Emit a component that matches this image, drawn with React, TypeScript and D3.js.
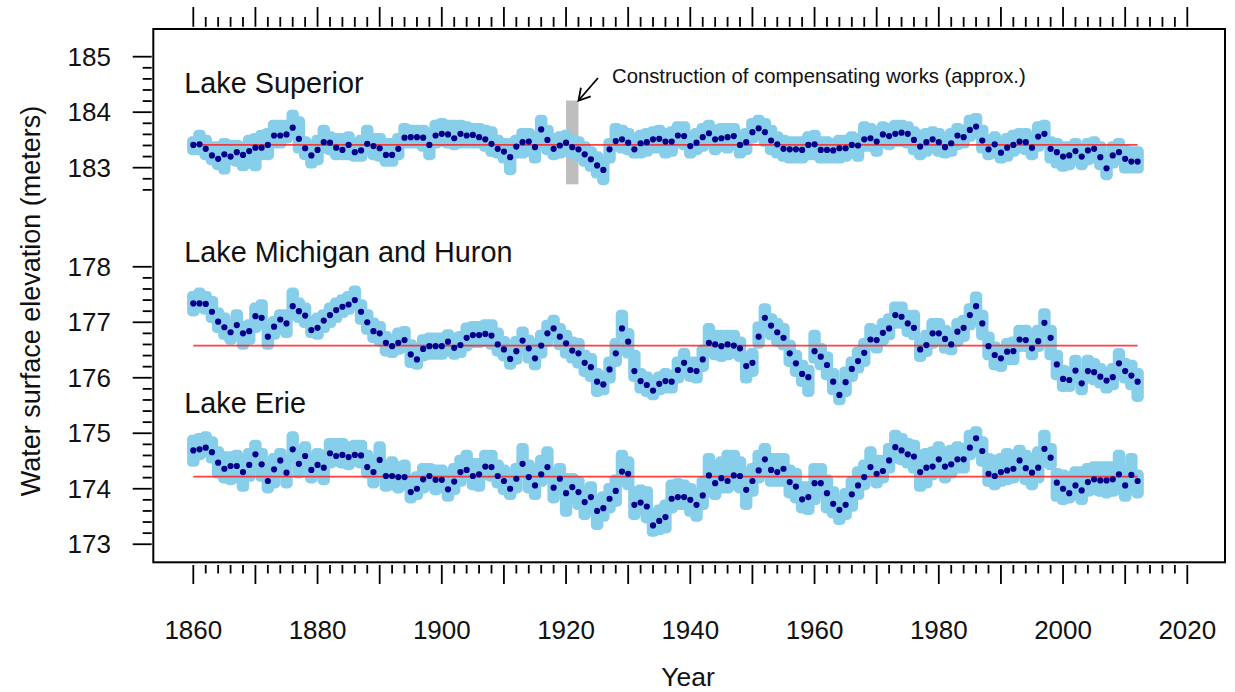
import React from 'react';
import * as d3 from 'd3';

// annual series, 1860..2012
const years = d3.range(1860, 2013);

const superiorMean = [
  183.41, 183.42, 183.34, 183.22, 183.16, 183.24, 183.20, 183.28, 183.23, 183.30,
  183.36, 183.36, 183.41, 183.58, 183.58, 183.60, 183.72, 183.52, 183.35, 183.22,
  183.32, 183.46, 183.45, 183.36, 183.32, 183.41, 183.28, 183.31, 183.43, 183.39,
  183.35, 183.23, 183.23, 183.34, 183.54, 183.55, 183.55, 183.54, 183.41, 183.58,
  183.61, 183.60, 183.53, 183.61, 183.58, 183.59, 183.55, 183.51, 183.43, 183.34,
  183.29, 183.19, 183.38, 183.46, 183.47, 183.37, 183.69, 183.50, 183.34, 183.40,
  183.45, 183.37, 183.33, 183.24, 183.15, 183.04, 182.96, 183.33, 183.48, 183.51,
  183.45, 183.33, 183.44, 183.46, 183.51, 183.52, 183.47, 183.47, 183.58, 183.57,
  183.39, 183.45, 183.55, 183.62, 183.51, 183.53, 183.55, 183.57, 183.41, 183.46,
  183.64, 183.71, 183.64, 183.49, 183.42, 183.34, 183.33, 183.33, 183.32, 183.41,
  183.42, 183.32, 183.32, 183.31, 183.35, 183.35, 183.41, 183.40, 183.51, 183.53,
  183.47, 183.60, 183.57, 183.61, 183.63, 183.61, 183.50, 183.38, 183.46, 183.51,
  183.46, 183.37, 183.44, 183.58, 183.55, 183.68, 183.74, 183.49, 183.33, 183.42,
  183.27, 183.36, 183.41, 183.47, 183.46, 183.36, 183.56, 183.61, 183.34, 183.28,
  183.20, 183.22, 183.30, 183.20, 183.31, 183.34, 183.19, 182.99, 183.22, 183.28,
  183.16, 183.11, 183.11,
];
const superiorHigh = [
  183.50, 183.62, 183.53, 183.41, 183.41, 183.47, 183.44, 183.44, 183.41, 183.53,
  183.56, 183.62, 183.65, 183.80, 183.80, 183.80, 183.98, 183.86, 183.50, 183.41,
  183.53, 183.71, 183.59, 183.56, 183.56, 183.59, 183.47, 183.53, 183.71, 183.56,
  183.56, 183.47, 183.47, 183.56, 183.74, 183.71, 183.71, 183.71, 183.65, 183.80,
  183.83, 183.80, 183.80, 183.80, 183.77, 183.74, 183.74, 183.71, 183.68, 183.53,
  183.47, 183.47, 183.53, 183.65, 183.65, 183.59, 183.89, 183.71, 183.56, 183.59,
  183.62, 183.53, 183.50, 183.41, 183.32, 183.23, 183.14, 183.47, 183.74, 183.71,
  183.65, 183.56, 183.62, 183.65, 183.68, 183.71, 183.65, 183.68, 183.77, 183.77,
  183.59, 183.65, 183.74, 183.80, 183.71, 183.74, 183.74, 183.74, 183.62, 183.65,
  183.83, 183.89, 183.83, 183.71, 183.59, 183.53, 183.50, 183.50, 183.50, 183.59,
  183.62, 183.50, 183.50, 183.47, 183.53, 183.53, 183.59, 183.56, 183.77, 183.74,
  183.68, 183.77, 183.74, 183.80, 183.80, 183.77, 183.68, 183.62, 183.65, 183.68,
  183.65, 183.56, 183.65, 183.74, 183.71, 183.89, 183.92, 183.71, 183.53, 183.59,
  183.47, 183.56, 183.62, 183.65, 183.65, 183.56, 183.77, 183.80, 183.50, 183.47,
  183.41, 183.41, 183.47, 183.38, 183.47, 183.50, 183.41, 183.23, 183.41, 183.47,
  183.35, 183.32, 183.32,
];
const superiorLow = [
  183.29, 183.29, 183.20, 183.11, 183.02, 182.94, 183.11, 183.08, 183.00, 183.05,
  183.00, 183.20, 183.20, 183.41, 183.41, 183.50, 183.59, 183.32, 183.20, 183.05,
  183.11, 183.32, 183.29, 183.20, 183.20, 183.20, 183.17, 183.17, 183.29, 183.20,
  183.17, 183.08, 183.08, 183.20, 183.41, 183.41, 183.41, 183.35, 183.20, 183.41,
  183.44, 183.41, 183.38, 183.41, 183.41, 183.41, 183.41, 183.35, 183.26, 183.23,
  183.14, 182.93, 183.23, 183.23, 183.26, 183.14, 183.41, 183.29, 183.20, 183.23,
  183.26, 183.23, 183.17, 183.08, 182.99, 182.87, 182.75, 183.14, 183.35, 183.32,
  183.29, 183.23, 183.23, 183.26, 183.32, 183.32, 183.23, 183.26, 183.41, 183.38,
  183.23, 183.29, 183.35, 183.44, 183.29, 183.35, 183.32, 183.38, 183.23, 183.29,
  183.50, 183.56, 183.44, 183.29, 183.23, 183.17, 183.14, 183.14, 183.14, 183.20,
  183.20, 183.14, 183.14, 183.14, 183.14, 183.17, 183.23, 183.17, 183.35, 183.35,
  183.26, 183.41, 183.38, 183.44, 183.44, 183.41, 183.29, 183.20, 183.26, 183.32,
  183.26, 183.23, 183.26, 183.38, 183.41, 183.53, 183.59, 183.32, 183.20, 183.23,
  183.14, 183.17, 183.26, 183.32, 183.29, 183.20, 183.35, 183.44, 183.14, 183.05,
  182.99, 183.02, 183.11, 183.02, 183.11, 183.14, 183.02, 182.84, 183.05, 183.11,
  182.96, 182.96, 182.96,
];

const michiganMean = [
  177.34, 177.34, 177.33, 177.19, 177.01, 176.91, 176.82, 176.95, 176.80, 176.84,
  177.11, 177.08, 176.74, 176.92, 177.05, 176.98, 177.29, 177.20, 177.12, 176.86,
  176.90, 177.03, 177.13, 177.22, 177.28, 177.32, 177.40, 177.19, 177.00, 176.84,
  176.80, 176.63, 176.57, 176.63, 176.68, 176.42, 176.33, 176.52, 176.57, 176.57,
  176.57, 176.65, 176.54, 176.59, 176.72, 176.77, 176.77, 176.79, 176.76, 176.60,
  176.51, 176.34, 176.48, 176.67, 176.53, 176.35, 176.58, 176.80, 176.89, 176.74,
  176.62, 176.49, 176.44, 176.27, 176.19, 175.93, 175.88, 176.15, 176.44, 176.89,
  176.65, 176.12, 175.94, 175.87, 175.77, 175.89, 175.94, 175.93, 176.14, 176.27,
  176.14, 176.12, 176.33, 176.63, 176.60, 176.57, 176.60, 176.58, 176.53, 176.21,
  176.27, 176.74, 177.08, 176.94, 176.82, 176.72, 176.44, 176.26, 176.07, 176.01,
  176.48, 176.38, 176.23, 175.93, 175.69, 175.92, 176.16, 176.30, 176.45, 176.69,
  176.68, 176.81, 176.89, 177.13, 177.10, 176.98, 176.90, 176.51, 176.59, 176.80,
  176.80, 176.70, 176.60, 176.83, 176.90, 177.13, 177.29, 176.98, 176.57, 176.41,
  176.35, 176.47, 176.48, 176.69, 176.68, 176.53, 176.66, 176.99, 176.72, 176.24,
  175.98, 175.96, 176.13, 175.90, 176.12, 176.10, 176.02, 175.95, 176.01, 176.26,
  176.12, 176.04, 175.93,
];
const michiganHigh = [
  177.50, 177.56, 177.50, 177.41, 177.20, 177.11, 176.99, 177.17, 176.96, 176.99,
  177.29, 177.35, 176.90, 177.05, 177.17, 177.17, 177.56, 177.38, 177.29, 177.05,
  177.11, 177.17, 177.29, 177.38, 177.44, 177.50, 177.60, 177.35, 177.17, 177.02,
  176.96, 176.78, 176.72, 176.84, 176.87, 176.63, 176.57, 176.72, 176.75, 176.75,
  176.75, 176.81, 176.75, 176.78, 176.93, 176.96, 176.96, 176.99, 176.99, 176.84,
  176.69, 176.51, 176.69, 176.86, 176.71, 176.53, 176.80, 176.98, 177.07, 176.92,
  176.80, 176.68, 176.65, 176.44, 176.38, 176.11, 176.05, 176.32, 176.65, 177.16,
  176.83, 176.44, 176.11, 176.05, 175.96, 176.05, 176.11, 176.08, 176.32, 176.47,
  176.32, 176.32, 176.53, 176.92, 176.80, 176.80, 176.80, 176.80, 176.68, 176.41,
  176.47, 176.95, 177.28, 177.10, 177.01, 176.92, 176.62, 176.44, 176.26, 176.17,
  176.80, 176.56, 176.41, 176.11, 175.84, 176.14, 176.32, 176.50, 176.65, 176.92,
  176.89, 177.01, 177.10, 177.31, 177.31, 177.16, 177.16, 176.65, 176.80, 177.01,
  177.01, 176.89, 176.80, 177.01, 177.07, 177.28, 177.49, 177.16, 176.77, 176.59,
  176.53, 176.65, 176.68, 176.89, 176.89, 176.74, 176.89, 177.19, 176.89, 176.44,
  176.17, 176.14, 176.35, 176.08, 176.35, 176.29, 176.20, 176.14, 176.20, 176.47,
  176.29, 176.26, 176.11,
];
const michiganLow = [
  177.17, 177.23, 177.20, 177.05, 176.87, 176.75, 176.66, 176.75, 176.57, 176.66,
  176.87, 176.93, 176.57, 176.75, 176.84, 176.78, 177.11, 177.05, 176.96, 176.78,
  176.75, 176.87, 176.96, 177.05, 177.14, 177.20, 177.29, 177.02, 176.84, 176.69,
  176.63, 176.45, 176.42, 176.48, 176.51, 176.24, 176.21, 176.36, 176.39, 176.39,
  176.39, 176.45, 176.39, 176.42, 176.54, 176.60, 176.60, 176.63, 176.57, 176.45,
  176.36, 176.21, 176.30, 176.50, 176.32, 176.20, 176.41, 176.62, 176.74, 176.56,
  176.41, 176.32, 176.23, 176.08, 175.99, 175.72, 175.75, 175.96, 176.26, 176.74,
  176.41, 175.99, 175.78, 175.72, 175.66, 175.75, 175.78, 175.78, 175.96, 176.08,
  175.99, 175.96, 176.17, 176.44, 176.38, 176.35, 176.38, 176.41, 176.35, 175.96,
  176.08, 176.59, 176.92, 176.74, 176.62, 176.56, 176.26, 176.08, 175.90, 175.72,
  176.32, 176.20, 176.02, 175.75, 175.57, 175.72, 175.99, 176.14, 176.26, 176.56,
  176.50, 176.65, 176.74, 176.95, 176.95, 176.80, 176.74, 176.35, 176.44, 176.59,
  176.65, 176.50, 176.47, 176.62, 176.71, 176.92, 177.16, 176.74, 176.38, 176.20,
  176.17, 176.29, 176.29, 176.53, 176.53, 176.38, 176.53, 176.80, 176.38, 176.02,
  175.81, 175.81, 175.96, 175.75, 175.96, 175.93, 175.87, 175.78, 175.84, 176.11,
  175.96, 175.84, 175.63,
];

const erieMean = [
  174.69, 174.71, 174.74, 174.66, 174.47, 174.36, 174.41, 174.41, 174.30, 174.43,
  174.62, 174.44, 174.14, 174.35, 174.51, 174.29, 174.71, 174.45, 174.59, 174.34,
  174.43, 174.38, 174.64, 174.59, 174.61, 174.57, 174.61, 174.60, 174.39, 174.30,
  174.52, 174.23, 174.23, 174.21, 174.21, 173.94, 174.00, 174.17, 174.23, 174.16,
  174.16, 173.99, 174.13, 174.30, 174.34, 174.23, 174.26, 174.40, 174.39, 174.23,
  174.14, 174.00, 174.18, 174.45, 174.21, 174.06, 174.26, 174.39, 174.02, 174.18,
  173.92, 174.03, 173.94, 173.76, 173.85, 173.60, 173.65, 173.82, 173.96, 174.31,
  174.27, 173.71, 173.75, 173.68, 173.34, 173.42, 173.49, 173.82, 173.85, 173.85,
  173.80, 173.71, 173.88, 174.24, 174.10, 174.19, 174.14, 174.24, 174.23, 173.98,
  174.14, 174.33, 174.53, 174.34, 174.30, 174.36, 174.12, 174.04, 173.81, 173.85,
  174.10, 174.10, 173.92, 173.73, 173.62, 173.71, 173.90, 174.06, 174.21, 174.39,
  174.27, 174.32, 174.51, 174.75, 174.69, 174.62, 174.58, 174.30, 174.38, 174.40,
  174.53, 174.40, 174.44, 174.53, 174.53, 174.74, 174.91, 174.68, 174.27, 174.23,
  174.30, 174.33, 174.36, 174.51, 174.37, 174.29, 174.38, 174.72, 174.56, 174.11,
  174.00, 173.92, 174.06, 173.97, 174.12, 174.17, 174.15, 174.15, 174.17, 174.26,
  174.06, 174.25, 174.14,
];
const erieHigh = [
  174.91, 174.94, 174.97, 174.88, 174.70, 174.61, 174.61, 174.64, 174.55, 174.67,
  174.82, 174.67, 174.40, 174.58, 174.67, 174.55, 174.97, 174.67, 174.79, 174.58,
  174.67, 174.64, 174.85, 174.85, 174.85, 174.79, 174.82, 174.82, 174.64, 174.55,
  174.79, 174.46, 174.52, 174.43, 174.46, 174.19, 174.25, 174.40, 174.40, 174.37,
  174.37, 174.22, 174.40, 174.55, 174.64, 174.49, 174.49, 174.64, 174.64, 174.46,
  174.37, 174.22, 174.40, 174.76, 174.46, 174.34, 174.55, 174.70, 174.31, 174.40,
  174.22, 174.22, 174.16, 173.98, 174.07, 173.83, 173.89, 174.04, 174.19, 174.64,
  174.52, 173.98, 174.01, 173.98, 173.53, 173.65, 173.74, 174.10, 174.13, 174.10,
  174.04, 173.95, 174.16, 174.58, 174.46, 174.52, 174.64, 174.64, 174.52, 174.28,
  174.40, 174.64, 174.76, 174.58, 174.58, 174.58, 174.37, 174.31, 174.07, 174.07,
  174.40, 174.40, 174.19, 173.98, 173.83, 173.95, 174.16, 174.34, 174.46, 174.70,
  174.55, 174.55, 174.76, 175.00, 174.94, 174.85, 174.82, 174.64, 174.67, 174.70,
  174.79, 174.70, 174.73, 174.79, 174.76, 175.00, 175.06, 174.88, 174.58, 174.55,
  174.58, 174.67, 174.64, 174.73, 174.64, 174.58, 174.70, 175.00, 174.76, 174.31,
  174.28, 174.25, 174.34, 174.34, 174.40, 174.43, 174.43, 174.43, 174.43, 174.64,
  174.37, 174.58, 174.28,
];
const erieLow = [
  174.46, 174.58, 174.64, 174.52, 174.25, 174.16, 174.13, 174.16, 174.01, 174.19,
  174.34, 174.19, 173.98, 174.07, 174.31, 174.07, 174.52, 174.25, 174.40, 174.16,
  174.25, 174.13, 174.43, 174.46, 174.43, 174.40, 174.46, 174.43, 174.25, 174.07,
  174.34, 174.01, 174.04, 173.98, 174.04, 173.80, 173.86, 173.98, 174.04, 173.95,
  173.98, 173.83, 173.95, 174.10, 174.19, 174.04, 174.01, 174.22, 174.19, 174.07,
  173.95, 173.86, 173.98, 174.28, 173.98, 173.86, 174.10, 174.16, 173.80, 173.98,
  173.56, 173.80, 173.68, 173.50, 173.59, 173.32, 173.47, 173.62, 173.74, 174.13,
  174.04, 173.50, 173.59, 173.44, 173.20, 173.23, 173.26, 173.62, 173.68, 173.68,
  173.56, 173.47, 173.68, 173.92, 173.86, 173.98, 173.98, 174.04, 173.98, 173.68,
  173.92, 174.16, 174.28, 174.10, 174.10, 174.10, 173.89, 173.80, 173.62, 173.59,
  173.77, 173.89, 173.62, 173.53, 173.41, 173.50, 173.65, 173.86, 174.04, 174.19,
  174.07, 174.16, 174.34, 174.52, 174.49, 174.43, 174.34, 174.01, 174.07, 174.22,
  174.28, 174.16, 174.25, 174.34, 174.34, 174.58, 174.76, 174.46, 174.10, 174.04,
  174.10, 174.13, 174.16, 174.28, 174.13, 174.04, 174.16, 174.46, 174.40, 173.83,
  173.77, 173.80, 173.86, 173.77, 173.92, 173.95, 173.92, 173.89, 173.92, 173.95,
  173.83, 173.95, 173.89,
];

const lakeNames = ['Lake Superior', 'Lake Michigan and Huron', 'Lake Erie'];
const longTermMeans = [183.41, 176.58, 174.22];
// Superior is drawn lifted down onto the shared axis
const displayShift = [3.214, 0, 0];
const nameLevels = [184.35, 178.09, 175.37];

const xTickYears = d3.range(1860, 2021, 20);
const superiorTicks = d3.range(1826, 1851, 2).map(v => v / 10);
const lowerTicks = d3.range(1730, 1781, 2).map(v => v / 10);
const worksYears = [1920, 1922];
const worksLevels = [182.7, 184.21];

const FONT = '"Liberation Sans", Arial, Helvetica, sans-serif';

export default function App() {
  const box = { left: 153.3, right: 1225, top: 29, bottom: 562.3 };
  const x = d3.scaleLinear().domain([1860, 2020]).range([193.3, 1187.3]);
  const y = d3.scaleLinear().domain([172.68, 182.285]).range([562, 29]);

  const lakes = [
    { mean: superiorMean, lo: superiorLow, hi: superiorHigh },
    { mean: michiganMean, lo: michiganLow, hi: michiganHigh },
    { mean: erieMean, lo: erieLow, hi: erieHigh },
  ];

  const r = 3.6;
  const minorYears = d3.range(1860, 2021, 2);
  const isMajor = (yr: number) => yr % 10 === 0;

  const leftTicks = [
    ...superiorTicks.map(v => ({ v, pos: y(v - displayShift[0]) })),
    ...lowerTicks.map(v => ({ v, pos: y(v) })),
  ];

  const tipX = x(worksYears[1]);
  const tipY = y(worksLevels[1] - displayShift[0]);
  const tailX = tipX + 19.5;
  const tailY = tipY - 22.5;
  const ang = Math.atan2(tipY - tailY, tipX - tailX);
  const headLen = 13;
  const wing = (d: number) => [tipX - headLen * Math.cos(ang + d), tipY - headLen * Math.sin(ang + d)];
  const w1 = wing(Math.PI / 6);
  const w2 = wing(-Math.PI / 6);

  return (
    <svg width={1235} height={692} style={{ position: 'absolute', left: 0, top: 0, background: '#fff' }}
      fontFamily={FONT}>
      <rect x={0} y={0} width={1235} height={692} fill="#fff" />

      {/* compensating works bar */}
      <rect x={x(worksYears[0])} width={x(worksYears[1]) - x(worksYears[0])}
        y={y(worksLevels[1] - displayShift[0])}
        height={y(worksLevels[0] - displayShift[0]) - y(worksLevels[1] - displayShift[0])}
        fill="#bebebe" />

      {/* monthly spread */}
      {lakes.map((lk, li) => (
        <g key={'m' + li} fill="#87ceeb">
          {years.map((yr, i) => {
            const x0 = x(yr - 0.42) - r;
            const x1 = x(yr + 0.42) + r;
            const y0 = y(lk.hi[i] - displayShift[li]) - r;
            const y1 = y(lk.lo[i] - displayShift[li]) + r;
            return <rect key={yr} x={x0} y={y0} width={x1 - x0} height={y1 - y0} rx={r + 1} ry={r + 1} />;
          })}
        </g>
      ))}

      {/* long-term means */}
      {longTermMeans.map((m, li) => (
        <line key={'avg' + li} x1={x(years[0])} x2={x(years[years.length - 1])}
          y1={y(m - displayShift[li])} y2={y(m - displayShift[li])}
          stroke="#ff2020" strokeOpacity={0.85} strokeWidth={1.8} />
      ))}

      {/* annual means */}
      {lakes.map((lk, li) => (
        <g key={'a' + li} fill="#00008b">
          {years.map((yr, i) => (
            <circle key={yr} cx={x(yr)} cy={y(lk.mean[i] - displayShift[li])} r={3.1} />
          ))}
        </g>
      ))}

      {/* lake names */}
      {lakeNames.map((n, li) => (
        <text key={n} x={184.3} y={y(nameLevels[li] - displayShift[li])} fontSize={28.8} fill="#111">{n}</text>
      ))}

      {/* frame */}
      <rect x={box.left} y={box.top} width={box.right - box.left} height={box.bottom - box.top}
        fill="none" stroke="#000" strokeWidth={2} />

      {/* x ticks, bottom and top */}
      <g stroke="#000" strokeWidth={1.8}>
        {minorYears.map(yr => (
          <g key={yr}>
            <line x1={x(yr)} x2={x(yr)} y1={565} y2={isMajor(yr) ? 584 : 573.5} />
            <line x1={x(yr)} x2={x(yr)} y1={26.8} y2={isMajor(yr) ? 7 : 17} />
          </g>
        ))}
      </g>
      {xTickYears.map(yr => (
        <text key={yr} x={x(yr)} y={639.3} textAnchor="middle" fontSize={26} fill="#111">{yr}</text>
      ))}

      {/* y ticks */}
      <g stroke="#000" strokeWidth={1.8}>
        {leftTicks.map((t, i) => {
          const major = Math.abs(t.v - Math.round(t.v)) < 1e-6;
          return <line key={i} x1={151.7} x2={major ? 132.7 : 142.7} y1={t.pos} y2={t.pos} />;
        })}
      </g>
      {leftTicks.filter(t => Math.abs(t.v - Math.round(t.v)) < 1e-6).map((t, i) => (
        <text key={'yl' + i} x={111} y={t.pos} dy="0.35em" textAnchor="end" fontSize={26} fill="#111">
          {Math.round(t.v)}
        </text>
      ))}

      {/* axis titles */}
      <text x={688} y={686} textAnchor="middle" fontSize={26.5} fill="#111">Year</text>
      <text transform="translate(39.5,301) rotate(-90)" textAnchor="middle" fontSize={27} fill="#111">
        Water surface elevation (meters)
      </text>

      {/* annotation */}
      <line x1={tailX} y1={tailY} x2={tipX} y2={tipY} stroke="#000" strokeWidth={1.8} />
      <polyline points={`${w1[0]},${w1[1]} ${tipX},${tipY} ${w2[0]},${w2[1]}`} fill="none" stroke="#000" strokeWidth={1.8} />
      <text x={612} y={83} fontSize={20.3} fill="#111">Construction of compensating works (approx.)</text>
    </svg>
  );
}
